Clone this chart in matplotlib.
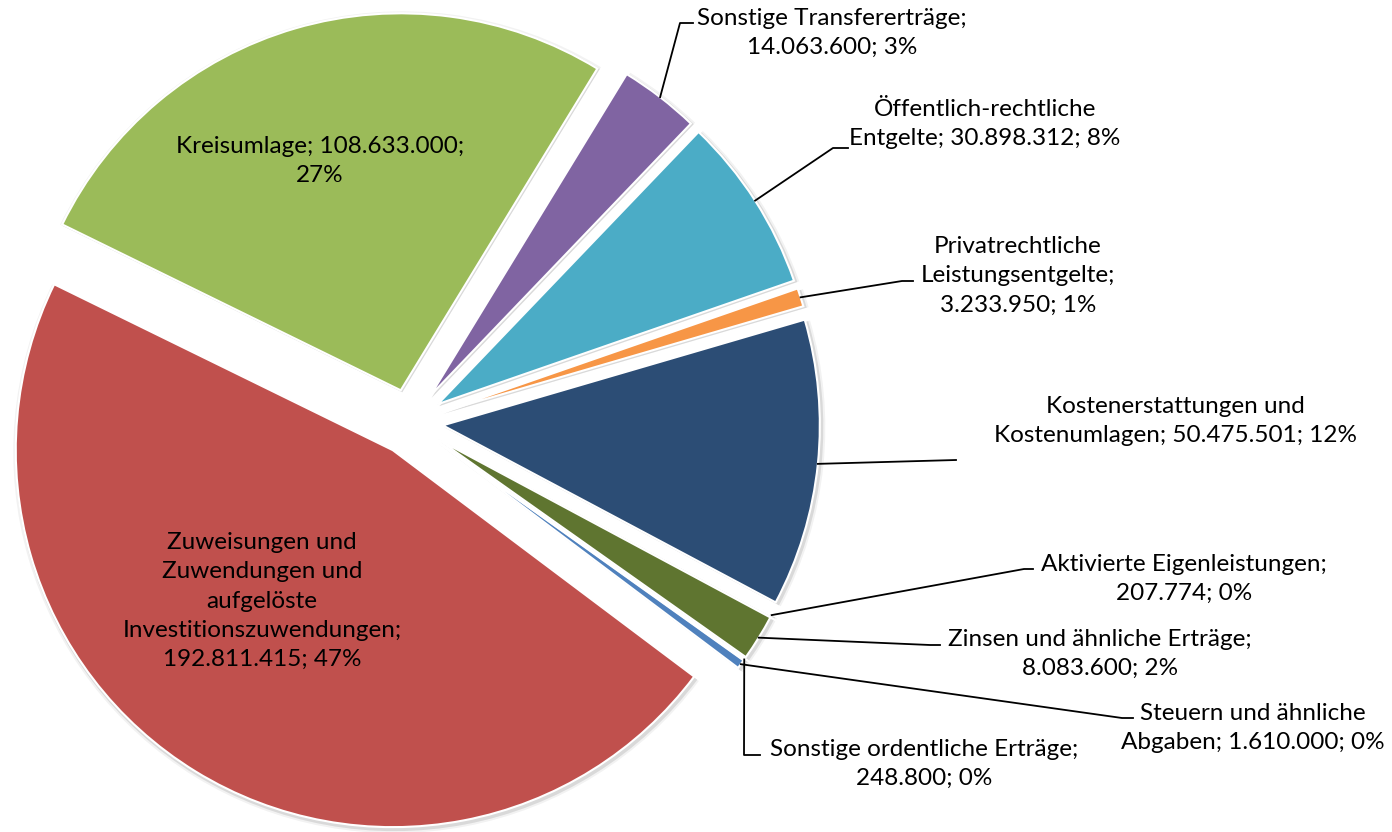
import numpy as np
import matplotlib.pyplot as plt
from matplotlib.patches import Wedge

# Erträge nach Kontenart (Excel-Tortendiagramm, alle Segmente herausgezogen)
names = ["Steuern und ähnliche\nAbgaben",
         "Zuweisungen und\nZuwendungen und\naufgelöste\nInvestitionszuwendungen",
         "Kreisumlage",
         "Sonstige Transfererträge",
         "Öffentlich-rechtliche\nEntgelte",
         "Privatrechtliche\nLeistungsentgelte",
         "Kostenerstattungen und\nKostenumlagen",
         "Aktivierte Eigenleistungen",
         "Zinsen und ähnliche Erträge",
         "Sonstige ordentliche Erträge"]
values = [1610000, 192811415, 108633000, 14063600, 30898312,
          3233950, 50475501, 207774, 8083600, 248800]
pct_labels = ["0%", "47%", "27%", "3%", "8%", "1%", "12%", "0%", "2%", "0%"]
sep_name = ["; ", ";\n", "; ", ";\n", "; ", ";\n", "; ", ";\n", ";\n", ";\n"]
sep_value = ["; ", "; ", ";\n", "; ", "; ", "; ", "; ", "; ", "; ", "; "]
colors = ["#4F81BD", "#C0504D", "#9BBB59", "#8064A2", "#4BACC6",
          "#F79646", "#2C4D75", "#772C2A", "#5F7530", "#4D3B62"]

# label placement in pixel coords of the 1392x832 picture (x, y from top)
label_pos = [(1253, 728), (262, 601), (320, 161), (832, 33), (985, 124),
             (1018, 276), (1175, 421), (1184, 579), (1100, 654), (924, 764)]
leader_pts = [[(1122, 718), (1133, 718)], None, None,
              [(680, 23), (693, 23)], [(833, 148), (848, 148)],
              [(902, 281), (913, 281)], [(956, 460)],
              [(1024, 569), (1033, 569)], [(930, 645), (940, 645)],
              [(744, 755), (760, 755)]]

W, H = 1392, 832
plt.rcParams['font.family'] = ['Lato', 'DejaVu Sans']

fig = plt.figure(figsize=(W / 100, H / 100), dpi=100)
ax = fig.add_axes([0, 0, 1, 1])

wedges, _ = ax.pie(values, colors=colors, startangle=-35.5, counterclock=False,
                   explode=[33] * len(values), radius=377, center=(410, H - 422),
                   wedgeprops=dict(edgecolor="white", linewidth=1.5))

# soft shadow like the Excel style
for w in wedges:
    w.set_zorder(3)
    for grow, a in [(4, 0.05), (2, 0.10)]:
        sh = Wedge((w.center[0] + 1.5, w.center[1] - 2), w.r + grow,
                   w.theta1, w.theta2, facecolor="black", edgecolor="none",
                   alpha=a, zorder=1)
        ax.add_patch(sh)

def fmt(v):
    return f"{v:,}".replace(",", ".")

for i, w in enumerate(wedges):
    txt = names[i] + sep_name[i] + fmt(values[i]) + sep_value[i] + pct_labels[i]
    lx, ly = label_pos[i]
    ax.text(lx, H - ly, txt, ha="center", va="center", multialignment="center",
            fontsize=17.5, color="black", linespacing=1.48, zorder=5)
    if leader_pts[i] is None:
        continue
    tm = np.deg2rad((w.theta1 + w.theta2) / 2)
    ax_ = w.center[0] + w.r * np.cos(tm)
    ay_ = w.center[1] + w.r * np.sin(tm)
    xs = [ax_] + [p[0] for p in leader_pts[i]]
    ys = [ay_] + [H - p[1] for p in leader_pts[i]]
    ax.plot(xs, ys, color="black", linewidth=1.3, zorder=4)

ax.set_xlim(0, W)
ax.set_ylim(0, H)
ax.set_aspect("equal")
ax.axis("off")

fig.savefig("out.png", dpi=100)
